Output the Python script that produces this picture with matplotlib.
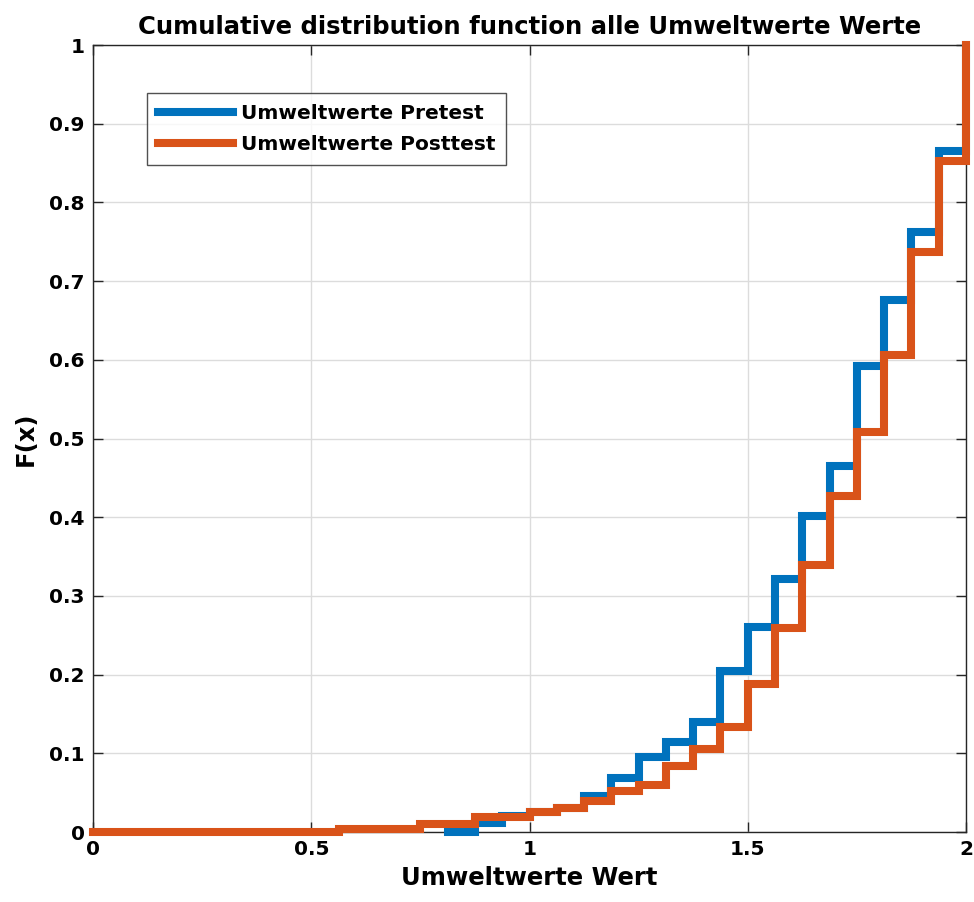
import matplotlib
matplotlib.use("Agg")
import matplotlib.pyplot as plt

# Step edges (x) and empirical CDF levels F(x) for both test rounds
x_pre = [0.8125, 0.875, 0.9375, 1.0, 1.0625, 1.125, 1.1875, 1.25, 1.3125,
         1.375, 1.4375, 1.5, 1.5625, 1.625, 1.6875, 1.75, 1.8125, 1.875, 1.9375, 2.0]
F_pre = [0, 0.011, 0.020, 0.025, 0.030, 0.046, 0.068, 0.095, 0.114,
         0.140, 0.204, 0.260, 0.321, 0.402, 0.465, 0.592, 0.676, 0.762, 0.866, 1.0]

x_post = [0, 0.5625, 0.75, 0.875, 1.0, 1.0625, 1.125, 1.1875, 1.25, 1.3125,
          1.375, 1.4375, 1.5, 1.5625, 1.625, 1.6875, 1.75, 1.8125, 1.875, 1.9375, 2.0]
F_post = [0, 0.004, 0.010, 0.019, 0.025, 0.031, 0.040, 0.052, 0.060, 0.084,
          0.106, 0.133, 0.188, 0.259, 0.339, 0.427, 0.508, 0.606, 0.737, 0.853, 1.0]

series_labels = ["Umweltwerte Pretest", "Umweltwerte Posttest"]
x_ticks = [0, 0.5, 1, 1.5, 2]
x_ticklabels = ["0", "0.5", "1", "1.5", "2"]
y_ticks = [0, 0.1, 0.2, 0.3, 0.4, 0.5, 0.6, 0.7, 0.8, 0.9, 1]
y_ticklabels = ["0", "0.1", "0.2", "0.3", "0.4", "0.5", "0.6", "0.7", "0.8", "0.9", "1"]

plt.rcParams["font.family"] = ["DejaVu Sans"]
plt.rcParams["font.weight"] = "bold"

fig = plt.figure(figsize=(9.74, 9.02), dpi=100)
ax = fig.add_axes([0.0955, 0.0776, 0.8963, 0.8724])

blue = "#0072BD"
orange = "#D95319"
lw = 5.8

ax.step(x_pre, F_pre, where="post", color=blue, lw=lw, label=series_labels[0],
        clip_on=False, solid_joinstyle="miter", zorder=3)
ax.step(x_post, F_post, where="post", color=orange, lw=lw, label=series_labels[1],
        clip_on=False, solid_joinstyle="miter", zorder=4)

ax.set_xlim(0, 2)
ax.set_ylim(0, 1)
ax.set_xticks(x_ticks)
ax.set_xticklabels(x_ticklabels)
ax.set_yticks(y_ticks)
ax.set_yticklabels(y_ticklabels)

ax.grid(True, color="#dcdcdc", lw=1.0, zorder=0)
ax.set_axisbelow(True)
ax.tick_params(direction="in", length=7, width=1.0, color="#262626",
               top=True, right=True, labelsize=14.5, pad=6)
for lab in ax.get_xticklabels() + ax.get_yticklabels():
    lab.set_fontweight("bold")
for sp in ax.spines.values():
    sp.set_color("#262626")
    sp.set_linewidth(1.0)

ax.set_title("Cumulative distribution function alle Umweltwerte Werte",
             fontsize=17.5, fontweight="bold", pad=8)
ax.set_xlabel("Umweltwerte Wert", fontsize=17.5, fontweight="bold", labelpad=5)
ax.set_ylabel("F(x)", fontsize=17.5, fontweight="bold", labelpad=8)

leg = ax.legend(loc="upper left", bbox_to_anchor=(0.0619, 0.939), fontsize=14.5,
                frameon=True, fancybox=False, edgecolor="#262626",
                handlelength=3.7, handletextpad=0.4, borderpad=0.55,
                labelspacing=0.6, borderaxespad=0)
leg.get_frame().set_linewidth(1.0)
for t in leg.get_texts():
    t.set_fontweight("bold")

fig.savefig("out.png", dpi=100)
